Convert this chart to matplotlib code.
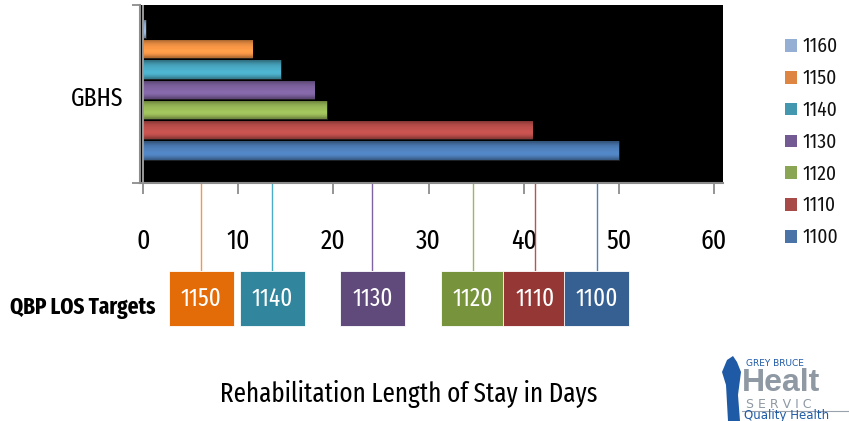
import matplotlib
matplotlib.use("Agg")
import matplotlib.pyplot as plt
import numpy as np
from matplotlib.transforms import blended_transform_factory
from matplotlib.patches import Rectangle, Polygon
from matplotlib.colors import to_rgb

# ---------------- data ----------------
categories = ["1100", "1110", "1120", "1130", "1140", "1150", "1160"]
los_days = [50.0, 40.9, 19.3, 18.0, 14.5, 11.5, 0.3]
bar_colors = ["#4F81BD", "#C0504D", "#9BBB59", "#8064A2", "#4BACC6", "#F79646", "#95B3D7"]
legend_colors = ["#4A74A8", "#A84B48", "#8AA553", "#735A92", "#4397AE", "#DF8542", "#95AED3"]

target_labels = ["1150", "1140", "1130", "1120", "1110", "1100"]
target_days = [6.1, 13.6, 24.1, 34.7, 41.2, 47.7]
target_line_colors = ["#F79646", "#4BACC6", "#8064A2", "#9BBB59", "#C0504D", "#4F81BD"]
target_box_colors = ["#E36C09", "#31859C", "#604A7B", "#77933C", "#953735", "#366092"]

x_ticks = [0, 10, 20, 30, 40, 50, 60]
group_label = "GBHS"
title = "Rehabilitation Length of Stay in Days"
targets_title = "QBP LOS Targets"

COND = ["Fira Sans Extra Condensed", "DejaVu Sans"]
COND2 = ["Fira Sans Condensed", "DejaVu Sans"]

W, H = 849, 421
fig = plt.figure(figsize=(W / 100, H / 100), dpi=100)


def fx(px):
    return px / W


def fy(py):
    return 1 - py / H


# main axes (black plot area)
L, R, T, B = 140, 723, 5, 183
ax = fig.add_axes([fx(L), fy(B), fx(R - L), (B - T) / H])
ax.set_facecolor("black")

ypos = np.arange(len(categories))
bar_h = 0.9
bars = ax.barh(ypos, los_days, height=bar_h, color=bar_colors,
               edgecolor="#1A1A1A", linewidth=0.6, zorder=3)

# cylinder-like shading
shade = np.array([0.72, 0.88, 1.0, 1.06, 1.06, 1.02, 1.0, 0.96, 0.9, 0.8, 0.66])
for rect, col in zip(bars, bar_colors):
    c = np.array(to_rgb(col))
    img = np.clip(c[None, :] * shade[:, None], 0, 1)[:, None, :]
    x0, y0 = rect.get_x(), rect.get_y()
    w, h = rect.get_width(), rect.get_height()
    im = ax.imshow(img, extent=(x0, x0 + w, y0, y0 + h), origin="lower",
                   aspect="auto", interpolation="bilinear", zorder=4)
    im.set_clip_path(rect)

px_per_unit = (714 - 143) / 60.0
ax.set_xlim((L - 143) / px_per_unit, (R - 143) / px_per_unit)
pitch = 20.25
ax.set_ylim((150.5 - B) / pitch, (150.5 - T) / pitch)

ax.axvline(0, color="#9A9A9A", lw=1.4, zorder=5)
for s in ["top", "right"]:
    ax.spines[s].set_visible(False)
for s in ["left", "bottom"]:
    ax.spines[s].set_color("#8C8C8C")
    ax.spines[s].set_linewidth(1.5)

ax.set_xticks(x_ticks)
ax.set_xticklabels([str(v) for v in x_ticks], family=COND, fontsize=20, color="#000000")
ax.tick_params(axis="x", direction="out", length=8, width=1.3, color="#8C8C8C", pad=24)
ax.set_yticks(list(ax.get_ylim()))
ax.set_yticklabels([])
ax.tick_params(axis="y", direction="out", length=6, width=1.3, color="#8C8C8C")

# category label
fig.text(fx(123), fy(99), group_label, ha="right", va="center",
         family=COND, fontsize=18.5, color="#000000")

# target lines + boxes
trans = blended_transform_factory(ax.transData, fig.transFigure)
box_w = 65 / px_per_unit
for lab, val, lc, bc in zip(target_labels, target_days, target_line_colors, target_box_colors):
    ax.plot([val, val], [fy(B), fy(270)], transform=trans, color=lc, lw=1.0,
            clip_on=False, zorder=2)
    ax.add_patch(Rectangle((val - box_w / 2, fy(326)), box_w, (326 - 271) / H,
                           transform=trans, facecolor=bc, edgecolor="white",
                           linewidth=0.6, clip_on=False, zorder=3))
    ax.text(val, fy(299), lab, transform=trans, ha="center", va="center",
            family=COND, fontsize=18, color="white", clip_on=False, zorder=4)

fig.text(fx(10), fy(307), targets_title, ha="left", va="center",
         family=COND, fontsize=16.5, fontweight="bold", color="#000000")

fig.text(fx(409), fy(394), title, ha="center", va="center",
         family=COND, fontsize=19.5, color="#000000")

# legend
handles = [Rectangle((0, 0), 1, 1, facecolor=c, edgecolor="none") for c in legend_colors]
leg = fig.legend(handles[::-1], categories[::-1], loc="upper left",
                 bbox_to_anchor=(fx(785), fy(37)), frameon=False,
                 prop={"family": COND2, "size": 14},
                 handlelength=0.62, handleheight=0.62, handletextpad=0.3,
                 labelspacing=0.63, borderpad=0, borderaxespad=0)
for t in leg.get_texts():
    t.set_color("#111111")

# logo (approximation)
fig.patches.append(Polygon([[fx(728), fy(421)], [fx(726), fy(385)], [fx(722), fy(372)],
                            [fx(727), fy(360)], [fx(733), fy(356)], [fx(737), fy(362)],
                            [fx(741), fy(372)], [fx(738), fy(395)], [fx(740), fy(421)]],
                           closed=True, transform=fig.transFigure, facecolor="#1F5AA6",
                           edgecolor="none"))
fig.text(fx(746), fy(364), "GREY BRUCE", ha="left", va="center", fontsize=6.5,
         color="#1F5AA6", family=["DejaVu Sans"])
fig.text(fx(742), fy(383), "Healt", ha="left", va="center", fontsize=23,
         fontweight="bold", color="#8E99A4", family=["Liberation Sans", "DejaVu Sans"])
fig.text(fx(746), fy(404), "S E R V I C", ha="left", va="center", fontsize=9,
         color="#8E99A4", family=["DejaVu Sans"])
fig.add_artist(plt.Line2D([fx(742), fx(849)], [fy(411), fy(411)], color="#9AA3AD", lw=0.8))
fig.text(fx(744), fy(416), "Quality Health", ha="left", va="center", fontsize=8.5,
         color="#1F5AA6", family=["DejaVu Sans"])

fig.savefig("out.png", dpi=100, facecolor="white")
